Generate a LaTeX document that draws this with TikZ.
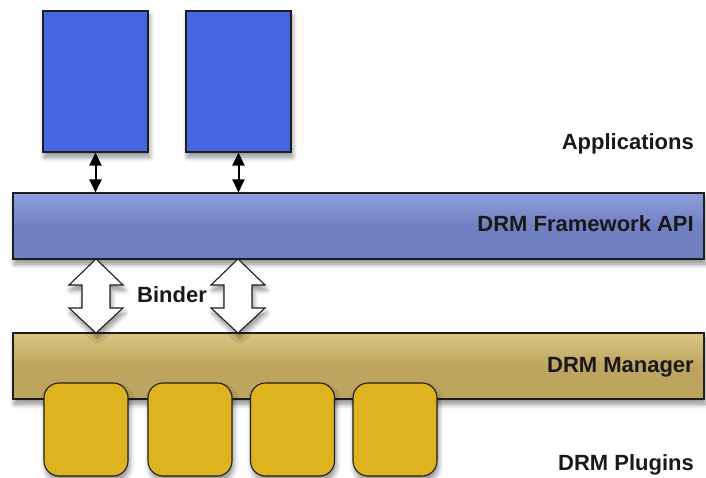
\documentclass[tikz,border=0pt]{standalone}
\usepackage{fontspec}
\setmainfont{Liberation Sans}
\usetikzlibrary{shadows.blur,arrows.meta}
\definecolor{appblue}{HTML}{4466E0}
\definecolor{apitop}{HTML}{8E9EDD}
\definecolor{apibot}{HTML}{7080C0}
\definecolor{mgrtop}{HTML}{D9C680}
\definecolor{mgrbot}{HTML}{BDA55F}
\definecolor{plug}{HTML}{DDB41F}
\definecolor{edge}{HTML}{1E1E1E}
\tikzset{
  shad/.style={blur shadow={shadow xshift=1.5pt, shadow yshift=-5pt, shadow blur steps=6, shadow opacity=45, shadow blur radius=5pt}},
  appbox/.style={draw=edge, line width=1.1pt, fill=appblue, minimum width=105pt, minimum height=141pt, inner sep=0pt, shad},
  apibar/.style={draw=edge, line width=1.1pt, top color=apitop, bottom color=apibot, middle color=apibot, minimum width=691pt, minimum height=66pt, inner sep=0pt, shad},
  mgrbar/.style={draw=edge, line width=1.1pt, top color=mgrtop, bottom color=mgrbot, middle color=mgrbot, minimum width=691pt, minimum height=66pt, inner sep=0pt, shad},
  plugbox/.style={draw=edge, line width=1.1pt, fill=plug, rounded corners=15pt, minimum width=84pt, minimum height=93pt, inner sep=0pt, shad},
  lbl/.style={font=\bfseries\fontsize{22}{25}\selectfont, inner sep=0pt, text=black!90},
  smallarrow/.style={line width=2pt, {Triangle[length=13pt,width=12pt]}-{Triangle[length=13pt,width=12pt]}},
  bigdarrow/.pic={
    \draw[edge, line width=1.1pt, fill=white, shad]
      (0,-37) -- (27,-11) -- (14,-11) -- (14,12) -- (27,12) -- (0,37)
      -- (-27,12) -- (-14,12) -- (-14,-11) -- (-27,-11) -- cycle;
  }
}
\begin{document}
\begin{tikzpicture}[x=1pt,y=-1pt]
\useasboundingbox (0,0) rectangle (706,478);
% applications
\node[appbox] (app1) at (95.5,81.5) {};
\node[appbox] (app2) at (238.5,81.5) {};
% API bar
\node[apibar] (api) at (358.5,226) {};
% small arrows
\draw[smallarrow] (app1.south) -- (app1.south |- api.north);
\draw[smallarrow] (app2.south) -- (app2.south |- api.north);
% manager bar
\node[mgrbar] (mgr) at (358.5,366) {};
% binder arrows
\pic at (96,296) {bigdarrow};
\pic at (238,296) {bigdarrow};
% plugins
\node[plugbox] (p1) at (86,429.5) {};
\node[plugbox] (p2) at (190,429.5) {};
\node[plugbox] (p3) at (292.5,429.5) {};
\node[plugbox] (p4) at (395,429.5) {};
% labels
\node[lbl, anchor=base east] (lapp) at (694,150) {Applications};
\node[lbl, anchor=base east] (lapi) at (694,232) {DRM Framework API};
\node[lbl, anchor=base] (lbind) at (172,302) {Binder};
\node[lbl, anchor=base east] (lmgr) at (694,372) {DRM Manager};
\node[lbl, anchor=base east] (lplug) at (694,470) {DRM Plugins};
\end{tikzpicture}
\end{document}
